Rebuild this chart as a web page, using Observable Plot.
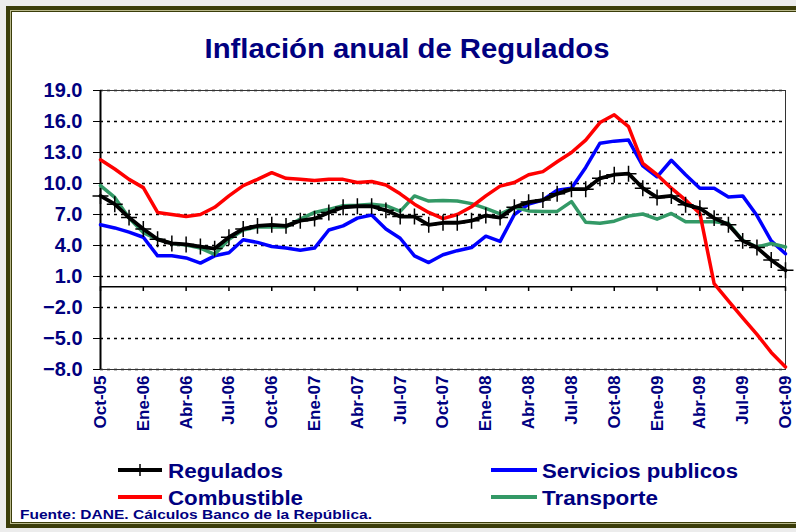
<!DOCTYPE html>
<html>
<head>
<meta charset="utf-8">
<script src="https://cdn.jsdelivr.net/npm/d3@7"></script>
<script src="https://cdn.jsdelivr.net/npm/@observablehq/plot@0.6"></script>
<style>
  html, body { margin: 0; padding: 0; background: #fff; }
  #wrap { position: relative; width: 796px; height: 532px; overflow: hidden; background: #ececec; font-family: "Liberation Sans", Arial, sans-serif; }
  .abs { position: absolute; }
  #chart svg { overflow: visible; }
  #chart g[aria-label="y-axis tick label"], #chart g[aria-label="x-axis tick label"] { fill: #000080; font-weight: bold; }
</style>
</head>
<body>
<div id="wrap">
  <div class="abs" style="left:6px;top:6px;width:800px;height:522px;background:#3b3d0a"></div>
  <div class="abs" style="left:10px;top:10px;width:800px;height:514px;background:#b9b98c"></div>
  <div class="abs" style="left:11px;top:11px;width:800px;height:512px;background:#3b3d0a"></div>
  <div class="abs" style="left:12px;top:12px;width:800px;height:510px;background:#ffffff"></div>
  <div id="chart" class="abs" style="left:0;top:0"></div>
  <svg id="overlay" class="abs" style="left:0;top:0" width="796" height="532"></svg>
</div>
<script>
const months = ["Oct-05","Nov-05","Dic-05","Ene-06","Feb-06","Mar-06","Abr-06","May-06","Jun-06","Jul-06","Ago-06","Sep-06",
  "Oct-06","Nov-06","Dic-06","Ene-07","Feb-07","Mar-07","Abr-07","May-07","Jun-07","Jul-07","Ago-07","Sep-07",
  "Oct-07","Nov-07","Dic-07","Ene-08","Feb-08","Mar-08","Abr-08","May-08","Jun-08","Jul-08","Ago-08","Sep-08",
  "Oct-08","Nov-08","Dic-08","Ene-09","Feb-09","Mar-09","Abr-09","May-09","Jun-09","Jul-09","Ago-09","Sep-09","Oct-09"];
const tickLabels = ["Oct-05","Ene-06","Abr-06","Jul-06","Oct-06","Ene-07","Abr-07","Jul-07","Oct-07","Ene-08","Abr-08","Jul-08","Oct-08","Ene-09","Abr-09","Jul-09","Oct-09"];
const yTicks = [-8, -5, -2, 1, 4, 7, 10, 13, 16, 19];

const regulados = [8.8, 8.0, 6.7, 5.6, 4.6, 4.2, 4.1, 3.9, 3.7, 4.8, 5.6, 5.9,
  6.0, 5.9, 6.4, 6.6, 7.2, 7.7, 7.8, 7.8, 7.4, 6.8, 6.8, 6.0,
  6.2, 6.2, 6.4, 6.9, 6.7, 7.7, 8.2, 8.4, 9.0, 9.45, 9.45, 10.5,
  10.85, 10.95, 9.55, 8.65, 8.8, 7.95, 7.6, 6.65, 6.0, 4.45, 3.8, 2.6, 1.6];
const serviciosPublicos = [6.0, 5.7, 5.3, 4.8, 3.0, 3.0, 2.8, 2.3, 3.0, 3.3, 4.55, 4.3,
  3.9, 3.75, 3.55, 3.75, 5.5, 5.9, 6.65, 6.95, 5.6, 4.7, 3.0, 2.35,
  3.1, 3.5, 3.8, 4.9, 4.4, 7.0, 8.0, 8.4, 9.35, 9.55, 11.55, 13.9,
  14.1, 14.2, 11.7, 10.65, 12.25, 10.85, 9.55, 9.55, 8.7, 8.8, 6.9, 4.45, 3.2];
const combustible = [12.3, 11.4, 10.4, 9.6, 7.2, 7.0, 6.8, 7.0, 7.7, 8.8, 9.8, 10.4,
  11.05, 10.5, 10.4, 10.3, 10.4, 10.4, 10.1, 10.2, 9.85, 9.0, 8.0, 7.2,
  6.6, 7.0, 7.75, 8.8, 9.75, 10.1, 10.85, 11.15, 12.1, 13.0, 14.2, 15.9,
  16.65, 15.5, 11.95, 10.85, 9.55, 8.4, 7.1, 0.3, -1.35, -3.0, -4.6, -6.35, -7.75];
const transporte = [9.8, 8.65, 6.65, 5.25, 4.6, 4.2, 4.05, 3.75, 3.15, 4.6, 5.5, 5.8,
  5.8, 5.8, 6.55, 7.2, 7.5, 7.85, 7.9, 8.0, 7.85, 7.3, 8.8, 8.3,
  8.35, 8.3, 8.05, 7.6, 7.05, 7.7, 7.35, 7.3, 7.3, 8.25, 6.25, 6.15,
  6.35, 6.85, 7.05, 6.55, 7.1, 6.3, 6.3, 6.3, 6.15, 4.5, 3.85, 4.2, 3.85];

const seriesNames = ["Regulados", "Servicios publicos", "Combustible", "Transporte"];
const seriesColors = ["#000000", "#0000ff", "#ff0000", "#339966"];

const data = months.map((m, i) => ({m, reg: regulados[i], sp: serviciosPublicos[i], comb: combustible[i], tr: transporte[i]}));

const chart = Plot.plot({
  width: 796,
  height: 440,
  marginTop: 90,
  marginBottom: 71,
  marginLeft: 100,
  marginRight: 11,
  style: {background: "transparent", fontFamily: "'Liberation Sans', Arial, sans-serif", color: "#000"},
  x: {type: "point", domain: months, padding: 0, round: false, label: null},
  y: {domain: [-8, 19], label: null},
  marks: [
    Plot.gridY(yTicks, {stroke: "#000", strokeOpacity: 1, strokeWidth: 1.5, strokeDasharray: "3,4"}),
    Plot.frame({stroke: "#333", strokeWidth: 1}),
    Plot.ruleY([0], {stroke: "#000", strokeWidth: 1.5}),
    Plot.ruleX(tickLabels, {x: d => d, y1: 0, y2: -0.45, stroke: "#000", strokeWidth: 1.5}),
    Plot.ruleX([months[0]], {stroke: "#000", strokeWidth: 2}),
    Plot.line(data, {x: "m", y: "sp", stroke: seriesColors[1], strokeWidth: 3.5}),
    Plot.line(data, {x: "m", y: "tr", stroke: seriesColors[3], strokeWidth: 3.5}),
    Plot.line(data, {x: "m", y: "comb", stroke: seriesColors[2], strokeWidth: 3.5}),
    Plot.line(data, {x: "m", y: "reg", stroke: seriesColors[0], strokeWidth: 3.8}),
    Plot.dot(data, {x: "m", y: "reg", symbol: "plus", r: 5.2, stroke: "#000", strokeWidth: 1.5}),
    Plot.axisY(yTicks, {tickFormat: d3.format(".1f"), tickSize: 7, tickPadding: 11, fontSize: 20, stroke: "#000", label: null}),
    Plot.axisX(tickLabels, {tickRotate: -90, tickSize: 0, tickPadding: 6, fontSize: 17, label: null})
  ]
});
document.getElementById("chart").appendChild(chart);

// Overlay: title, legend, source
const ov = d3.select("#overlay");
const navy = "#000080";
ov.append("text").attr("x", 407).attr("y", 58).attr("text-anchor", "middle")
  .attr("font-size", 28).attr("font-weight", "bold").attr("fill", navy)
  .attr("textLength", 405).attr("lengthAdjust", "spacingAndGlyphs")
  .text("Inflación anual de Regulados");

const legendItems = [
  {name: seriesNames[0], color: seriesColors[0], x1: 118, x2: 162, y: 470, tx: 168, ty: 478, w: 115, marker: true},
  {name: seriesNames[1], color: seriesColors[1], x1: 491, x2: 537, y: 470, tx: 542, ty: 478, w: 196},
  {name: seriesNames[2], color: seriesColors[2], x1: 118, x2: 162, y: 497, tx: 168, ty: 505, w: 135},
  {name: seriesNames[3], color: seriesColors[3], x1: 491, x2: 537, y: 497, tx: 542, ty: 505, w: 116}
];
for (const it of legendItems) {
  ov.append("line").attr("x1", it.x1).attr("x2", it.x2).attr("y1", it.y).attr("y2", it.y)
    .attr("stroke", it.color).attr("stroke-width", 4);
  if (it.marker) {
    const cx = (it.x1 + it.x2) / 2;
    ov.append("line").attr("x1", cx).attr("x2", cx).attr("y1", it.y - 6).attr("y2", it.y + 6)
      .attr("stroke", "#000").attr("stroke-width", 1.5);
  }
  ov.append("text").attr("x", it.tx).attr("y", it.ty).attr("font-size", 20).attr("font-weight", "bold")
    .attr("fill", navy).attr("textLength", it.w).attr("lengthAdjust", "spacingAndGlyphs").text(it.name);
}
ov.append("text").attr("x", 20).attr("y", 519).attr("font-size", 13).attr("font-weight", "bold")
  .attr("fill", navy).attr("textLength", 352).attr("lengthAdjust", "spacingAndGlyphs")
  .text("Fuente: DANE. Cálculos Banco de la República.");
</script>
</body>
</html>
